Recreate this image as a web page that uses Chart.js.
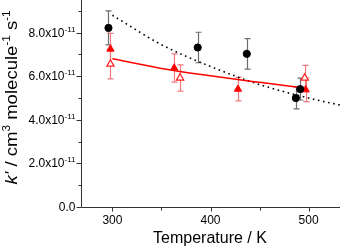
<!DOCTYPE html>
<html>
<head>
<meta charset="utf-8">
<script src="https://cdn.jsdelivr.net/npm/chart.js@4/dist/chart.umd.min.js"></script>
<style>
  html, body { margin: 0; padding: 0; background: #fff; }
  #wrap { width: 340px; height: 248px; }
</style>
</head>
<body>
<div id="wrap"><canvas id="kplot" width="340" height="248"></canvas></div>
<script>
// values in units of 1e-11 cm3 molecule-1 s-1
var blackT = [296, 387, 437, 487, 491.5];
var blackK = [8.22, 7.32, 7.03, 5.0, 5.41];
var blackErr = [0.78, 0.7, 0.7, 0.5, 0.5];

var redT = [298, 363, 428, 497];
var redK = [7.25, 6.38, 5.41, 5.38];
var redErr = [0.72, 0.65, 0.54, 0.54];

var openT = [298, 369, 496];
var openK = [6.56, 5.92, 5.92];
var openErr = [0.68, 0.6, 0.58];

var fitT = [300, 350, 400, 450, 494];
var fitK = [6.8, 6.36, 6.02, 5.72, 5.47];

var dotT = [300, 350, 400, 450, 500, 532];
var dotK = [8.8, 7.45, 6.45, 5.62, 5.0, 4.68];

var xTicks = [300, 400, 500];
var xMinor = [350, 450];
var yTicks = [0, 2, 4, 6, 8];
var yMinor = [1, 3, 5, 7, 9];

function pts(xs, ys, errs) {
  return xs.map(function (x, i) {
    var p = { x: x, y: ys[i] };
    if (errs) p.err = errs[i];
    return p;
  });
}

var FONT = 'Liberation Sans, Arial, sans-serif';

var axesPlugin = {
  id: 'axesPlugin',
  beforeDatasetsDraw: function (chart) {
    var ctx = chart.ctx, xs = chart.scales.x, ys = chart.scales.y;
    ctx.save();
    // error bars
    chart.data.datasets.forEach(function (ds) {
      if (!ds.errColor) return;
      ctx.strokeStyle = ds.errColor;
      ctx.lineWidth = 1.2;
      ds.data.forEach(function (p) {
        var px = Math.round(xs.getPixelForValue(p.x)) + 0.5;
        var top = ys.getPixelForValue(p.y + p.err);
        var bot = ys.getPixelForValue(p.y - p.err);
        ctx.beginPath();
        ctx.moveTo(px, top); ctx.lineTo(px, bot);
        ctx.moveTo(px - 3, top); ctx.lineTo(px + 3, top);
        ctx.moveTo(px - 3, bot); ctx.lineTo(px + 3, bot);
        ctx.stroke();
      });
    });
    ctx.restore();
  },
  afterDraw: function (chart) {
    var ctx = chart.ctx, a = chart.chartArea;
    var xs = chart.scales.x, ys = chart.scales.y;
    ctx.save();
    ctx.strokeStyle = '#333';
    ctx.lineWidth = 1;
    var L = Math.round(a.left) + 0.5, B = Math.round(a.bottom) + 0.5;
    ctx.beginPath();
    ctx.moveTo(L, a.top); ctx.lineTo(L, B); ctx.lineTo(a.right, B);
    // y ticks
    yTicks.forEach(function (v) {
      var py = Math.round(ys.getPixelForValue(v)) + 0.5;
      ctx.moveTo(L - 5, py); ctx.lineTo(L, py);
    });
    yMinor.forEach(function (v) {
      var py = Math.round(ys.getPixelForValue(v)) + 0.5;
      ctx.moveTo(L - 3, py); ctx.lineTo(L, py);
    });
    xTicks.forEach(function (v) {
      var px = Math.round(xs.getPixelForValue(v)) + 0.5;
      ctx.moveTo(px, B); ctx.lineTo(px, B + 4);
    });
    xMinor.forEach(function (v) {
      var px = Math.round(xs.getPixelForValue(v)) + 0.5;
      ctx.moveTo(px, B); ctx.lineTo(px, B + 3);
    });
    ctx.stroke();

    ctx.fillStyle = '#000';
    // x tick labels
    ctx.font = '12px ' + FONT;
    ctx.textAlign = 'center';
    ctx.textBaseline = 'alphabetic';
    xTicks.forEach(function (v) {
      ctx.fillText(String(v), xs.getPixelForValue(v), 224);
    });
    // y tick labels with exponent
    yTicks.forEach(function (v) {
      var py = ys.getPixelForValue(v) + 4;
      var right = L - 6;
      if (v === 0) {
        ctx.font = '12px ' + FONT;
        ctx.textAlign = 'right';
        ctx.fillText('0.0', right, py);
        return;
      }
      ctx.font = '8px ' + FONT;
      ctx.textAlign = 'right';
      var sup = '-11';
      var sw = ctx.measureText(sup).width;
      ctx.fillText(sup, right, py - 5);
      ctx.font = '12px ' + FONT;
      ctx.fillText(v.toFixed(1) + 'x10', right - sw, py);
    });

    // x title
    ctx.font = '16px ' + FONT;
    ctx.textAlign = 'center';
    ctx.fillText('Temperature / K', 210, 243);

    // y title, rotated, mixed italic + superscripts
    var parts = [
      { t: 'k\'', f: 'italic 16px ' + FONT, dy: 0 },
      { t: ' / cm', f: '16px ' + FONT, dy: 0 },
      { t: '3', f: '10px ' + FONT, dy: -7 },
      { t: ' molecule', f: '16px ' + FONT, dy: 0 },
      { t: '-1', f: '10px ' + FONT, dy: -7 },
      { t: ' s', f: '16px ' + FONT, dy: 0 },
      { t: '-1', f: '10px ' + FONT, dy: -7 }
    ];
    var total = 0;
    parts.forEach(function (p) { ctx.font = p.f; p.w = ctx.measureText(p.t).width; total += p.w; });
    var sx = 1.16;
    ctx.translate(17, 97.5);
    ctx.rotate(-Math.PI / 2);
    ctx.scale(sx, 1);
    ctx.textAlign = 'left';
    var cx = -total / 2;
    parts.forEach(function (p) {
      ctx.font = p.f;
      ctx.fillText(p.t, cx, p.dy);
      cx += p.w;
    });
    ctx.restore();
  }
};

new Chart('kplot', {
  type: 'scatter',
  data: {
    datasets: [
      {
        data: pts(blackT, blackK, blackErr),
        pointStyle: 'circle', pointRadius: 3.6,
        backgroundColor: '#000', borderColor: '#000', borderWidth: 1,
        errColor: '#6e6e6e', order: 1
      },
      {
        data: pts(redT, redK, redErr),
        pointStyle: 'triangle', pointRadius: 4.2,
        backgroundColor: '#ff0000', borderColor: '#ff0000', borderWidth: 1,
        errColor: '#f47a7a', order: 2
      },
      {
        data: pts(openT, openK, openErr),
        pointStyle: 'triangle', pointRadius: 4.2,
        backgroundColor: '#ffffff', borderColor: '#ff2020', borderWidth: 1.2,
        errColor: '#f47a7a', order: 3
      },
      {
        type: 'line',
        data: pts(fitT, fitK),
        borderColor: '#ff0000', borderWidth: 1.5,
        pointRadius: 0, tension: 0.4, cubicInterpolationMode: 'monotone',
        fill: false, order: 4
      },
      {
        type: 'line',
        data: pts(dotT, dotK),
        borderColor: '#000', borderWidth: 1.6, borderDash: [1.6, 3.6],
        pointRadius: 0, cubicInterpolationMode: 'monotone',
        fill: false, order: 5
      }
    ]
  },
  options: {
    responsive: false,
    animation: false,
    layout: { autoPadding: false, padding: { left: 81, bottom: 41, top: 0, right: 0 } },
    plugins: { legend: { display: false }, tooltip: { enabled: false } },
    scales: {
      x: { type: 'linear', min: 268, max: 532, display: false },
      y: { type: 'linear', min: 0, max: 9.5, display: false }
    }
  },
  plugins: [axesPlugin]
});
</script>
</body>
</html>
